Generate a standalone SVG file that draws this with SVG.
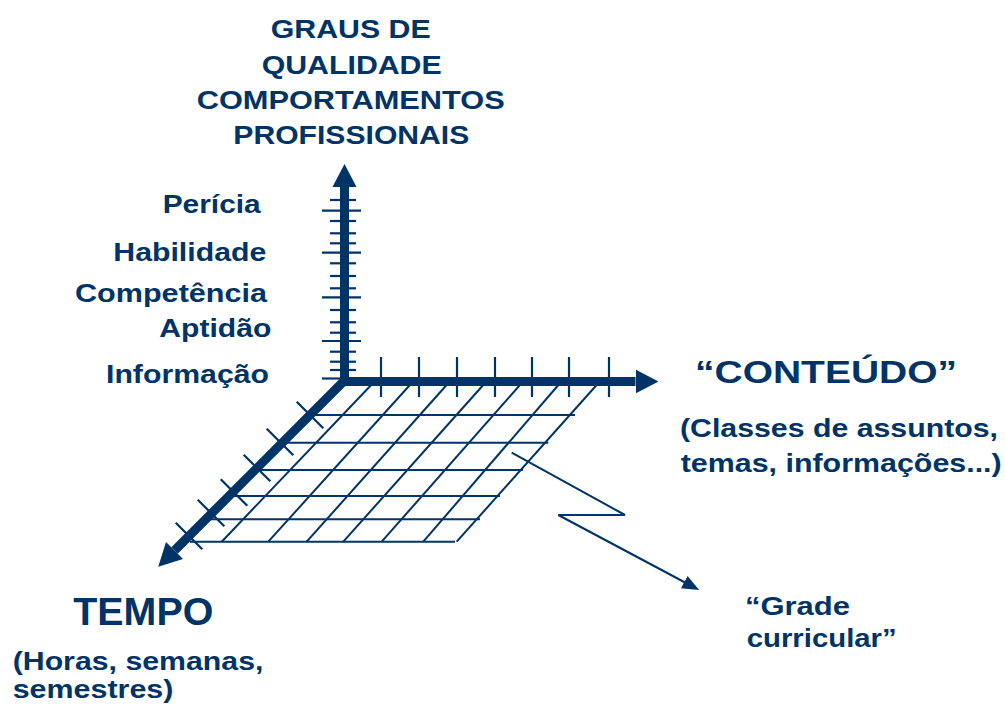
<svg xmlns="http://www.w3.org/2000/svg" width="1005" height="704" viewBox="0 0 1005 704">
<defs>
<style>
.t{font-family:"Liberation Sans",Arial,sans-serif;font-weight:bold;fill:#003366;}
.axis{stroke:#003366;stroke-width:9;fill:none;}
.grid{stroke:#003366;stroke-width:2;fill:none;}
.tick{stroke:#003366;stroke-width:2.2;fill:none;}
.call{stroke:#003366;stroke-width:2;fill:none;}
</style>
<marker id="bigHead" markerUnits="userSpaceOnUse" markerWidth="24" markerHeight="26" viewBox="0 -13 24 26" refX="0" refY="0" orient="auto">
<path d="M0,-12 L23,0 L0,12 z" fill="#003366"/>
</marker>
<marker id="smallHead" markerUnits="userSpaceOnUse" markerWidth="18" markerHeight="16" viewBox="0 -8 18 16" refX="2" refY="0" orient="auto">
<path d="M0,-7 L17,0 L0,7 z" fill="#003366"/>
</marker>
</defs>
<rect width="1005" height="704" fill="#ffffff"/>

<g id="grade-grid">
<g class="grid">
<line x1="310" y1="415" x2="575" y2="415"/>
<line x1="282" y1="442.7" x2="548.3" y2="442.7"/>
<line x1="256" y1="470" x2="523" y2="470"/>
<line x1="232" y1="496" x2="500" y2="496"/>
<line x1="210" y1="519.3" x2="480" y2="519.3"/>
<line x1="190" y1="541.7" x2="455" y2="541.7"/>
<line x1="375" y1="381" x2="221.7" y2="541.7"/>
<line x1="413.5" y1="381" x2="268.3" y2="541.7"/>
<line x1="450.2" y1="381" x2="306.7" y2="541.7"/>
<line x1="486.8" y1="381" x2="343.3" y2="541.7"/>
<line x1="523.5" y1="381" x2="381.7" y2="541.7"/>
<line x1="561.8" y1="381" x2="423.3" y2="541.7"/>
<line x1="600.2" y1="381" x2="456.7" y2="541.7"/>
</g>
</g>

<g id="connectors">
<g class="tick">
<line x1="330" y1="200" x2="356" y2="200"/>
<line x1="322" y1="210.7" x2="361" y2="210.7"/>
<line x1="330" y1="221" x2="356" y2="221"/>
<line x1="330" y1="233.3" x2="356" y2="233.3"/>
<line x1="330" y1="243.3" x2="356" y2="243.3"/>
<line x1="322" y1="252.7" x2="361" y2="252.7"/>
<line x1="330" y1="263.3" x2="356" y2="263.3"/>
<line x1="330" y1="276" x2="356" y2="276"/>
<line x1="330" y1="288.3" x2="356" y2="288.3"/>
<line x1="322" y1="297.3" x2="361" y2="297.3"/>
<line x1="330" y1="310" x2="356" y2="310"/>
<line x1="330" y1="322.3" x2="356" y2="322.3"/>
<line x1="330" y1="332.7" x2="356" y2="332.7"/>
<line x1="322" y1="341" x2="361" y2="341"/>
<line x1="330" y1="351.7" x2="356" y2="351.7"/>
<line x1="330" y1="361.7" x2="356" y2="361.7"/>
<line x1="330" y1="370" x2="356" y2="370"/>
<line x1="322" y1="378.5" x2="344" y2="378.5"/>
<line x1="381" y1="357" x2="381" y2="397"/>
<line x1="419" y1="357" x2="419" y2="397"/>
<line x1="457" y1="357" x2="457" y2="397"/>
<line x1="495" y1="357" x2="495" y2="397"/>
<line x1="532" y1="357" x2="532" y2="397"/>
<line x1="569" y1="357" x2="569" y2="397"/>
<line x1="609" y1="357" x2="609" y2="397"/>
<line x1="296.7" y1="401.7" x2="323.3" y2="428.3"/>
<line x1="266.7" y1="428.7" x2="293.3" y2="455.3"/>
<line x1="243.7" y1="454.7" x2="270.3" y2="481.3"/>
<line x1="220.7" y1="479.2" x2="247.3" y2="505.8"/>
<line x1="197.7" y1="499.7" x2="224.3" y2="526.3"/>
<line x1="175.7" y1="522.7" x2="202.3" y2="549.3"/>
</g>
<line id="axis-quality" class="axis" x1="344.5" y1="385.5" x2="344.5" y2="187" marker-end="url(#bigHead)"/>
<line id="axis-content" class="axis" x1="340" y1="381.5" x2="635.5" y2="381.5" marker-end="url(#bigHead)"/>
<line id="axis-time" class="axis" x1="347" y1="378" x2="174.5" y2="550.5" marker-end="url(#bigHead)"/>
<polyline id="callout" class="call" points="511.7,452.7 625,515 558.3,515 686,583" marker-end="url(#smallHead)"/>
</g>

<g id="title-quality">
<text class="t" x="270.7" y="38" font-size="26" textLength="160" lengthAdjust="spacingAndGlyphs">GRAUS DE</text>
<text class="t" x="261.7" y="74" font-size="26" textLength="180" lengthAdjust="spacingAndGlyphs">QUALIDADE</text>
<text class="t" x="196.7" y="109" font-size="26" textLength="308" lengthAdjust="spacingAndGlyphs">COMPORTAMENTOS</text>
<text class="t" x="233.3" y="144" font-size="26" textLength="236" lengthAdjust="spacingAndGlyphs">PROFISSIONAIS</text>
</g>

<g id="levels">
<text class="t" x="162.7" y="213.3" font-size="26" textLength="98" lengthAdjust="spacingAndGlyphs">Perícia</text>
<text class="t" x="113.3" y="260.7" font-size="26" textLength="153" lengthAdjust="spacingAndGlyphs">Habilidade</text>
<text class="t" x="75" y="301.7" font-size="26" textLength="192" lengthAdjust="spacingAndGlyphs">Competência</text>
<text class="t" x="159.3" y="336.7" font-size="26" textLength="112" lengthAdjust="spacingAndGlyphs">Aptidão</text>
<text class="t" x="106" y="383.3" font-size="26" textLength="163" lengthAdjust="spacingAndGlyphs">Informação</text>
</g>

<g id="label-content">
<text class="t" x="695" y="383.3" font-size="32" textLength="262" lengthAdjust="spacingAndGlyphs">“CONTEÚDO”</text>
<text class="t" x="680" y="436.7" font-size="26" textLength="318" lengthAdjust="spacingAndGlyphs">(Classes de assuntos,</text>
<text class="t" x="680.7" y="471.7" font-size="26" textLength="321" lengthAdjust="spacingAndGlyphs">temas, informações...)</text>
</g>

<g id="label-time">
<text class="t" x="73.3" y="625" font-size="38" textLength="140" lengthAdjust="spacingAndGlyphs">TEMPO</text>
<text class="t" x="12.7" y="670" font-size="26" textLength="250.7" lengthAdjust="spacingAndGlyphs">(Horas, semanas,</text>
<text class="t" x="12.7" y="698" font-size="26" textLength="160.7" lengthAdjust="spacingAndGlyphs">semestres)</text>
</g>

<g id="label-grade">
<text class="t" x="745" y="615" font-size="25" textLength="105" lengthAdjust="spacingAndGlyphs">“Grade</text>
<text class="t" x="746.7" y="646.7" font-size="25" textLength="150" lengthAdjust="spacingAndGlyphs">curricular”</text>
</g>
</svg>
